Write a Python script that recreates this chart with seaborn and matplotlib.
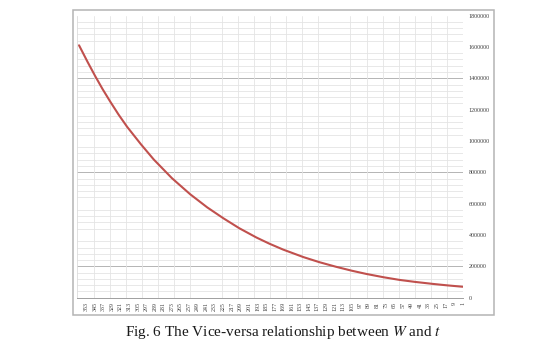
import numpy as np
import pandas as pd
import matplotlib.pyplot as plt
import seaborn as sns
from matplotlib.patches import Rectangle

# values (t on the category axis, W on the value axis)
t_vals = [1, 15, 28, 45, 60, 75, 91, 105, 120, 135, 150, 169, 182, 194, 210,
          225, 240, 256, 273, 290, 302, 315, 323, 331, 338, 345, 352, 360]
w_vals = [70000, 78500, 87400, 100400, 113500, 130500, 151400, 172600, 198200,
          226500, 259000, 307000, 345000, 384000, 443000, 507000, 576000,
          660000, 762000, 881000, 978000, 1090000, 1168000, 1253000, 1331000,
          1415000, 1504000, 1610000]
x_labels = list(range(1, 354, 8))
y_ticks = list(range(0, 1800001, 200000))
caption = "Fig. 6 The Vice-versa relationship between $W$ and $t$"

df = pd.DataFrame({"t": t_vals, "W": w_vals})

sns.set_style("white")
plt.rcParams['font.family'] = ['Liberation Serif', 'DejaVu Serif']
plt.rcParams['mathtext.fontset'] = 'stix'

fig = plt.figure(figsize=(5.52, 3.61), dpi=100)
ax = fig.add_axes([0.1395, 0.1753, 0.6993, 0.7817])

# outer chart-area border
fig.patches.append(Rectangle((72.7/552, 1-315/361), (494.3-72.7)/552, (315-9.5)/361,
                             transform=fig.transFigure, fill=False,
                             edgecolor='#b4b4b4', lw=1.1))

sns.lineplot(data=df, x="t", y="W", ax=ax, color='#c0504d', lw=1.5)

ax.set_xlim(361.9, 0.7)
ax.set_ylim(0, 1800000)

ax.set_xticks(x_labels)
ax.set_xticklabels([str(v) for v in x_labels], rotation=90, fontsize=4.3)
ax.set_xticks(list(range(1, 360, 15)), minor=True)
ax.set_yticks(y_ticks)
ax.set_yticklabels([str(v) for v in y_ticks], fontsize=4.3)
ax.set_yticks(list(range(0, 1800001, 40000)), minor=True)
ax.yaxis.tick_right()
ax.tick_params(axis='y', which='both', length=0, pad=4, colors='#404040')
ax.tick_params(axis='x', which='major', length=2, width=0.5, pad=1, colors='#404040', color='#a0a0a0')
ax.tick_params(axis='x', which='minor', length=0)

ax.grid(False)
ax.grid(which='minor', axis='both', color='#e4e4e4', lw=0.6)
for v in [200000, 800000, 1400000]:
    ax.axhline(v, color='#b4b4b4', lw=0.7, zorder=0.5)

for s in ['top', 'right']:
    ax.spines[s].set_visible(False)
ax.spines['left'].set_color('#dcdcdc')
ax.spines['left'].set_linewidth(0.6)
ax.spines['bottom'].set_color('#a0a0a0')
ax.spines['bottom'].set_linewidth(0.7)
ax.set_xlabel('')
ax.set_ylabel('')

fig.text(0.5136, 0.0776, caption, ha='center', va='center', fontsize=11, color='#1a1a1a')

fig.savefig('out.png', dpi=100)
